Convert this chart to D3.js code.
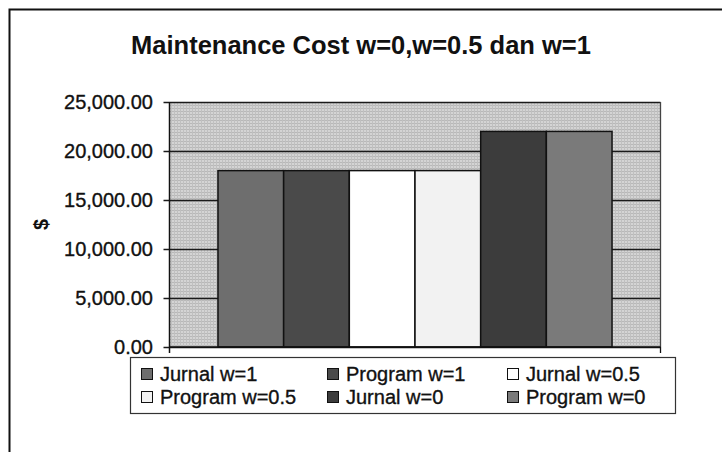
<!DOCTYPE html>
<html>
<head>
<meta charset="utf-8">
<script src="https://cdnjs.cloudflare.com/ajax/libs/d3/7.8.5/d3.min.js"></script>
<style>
    body { margin: 0; background: #fff; }
    text { font-family: "Liberation Sans", Arial, sans-serif; fill: #111; }
    .lbl { stroke: #111; stroke-width: 0.35px; }
</style>
</head>
<body>
<div id="chart"></div>
<script>
const chart_title = "Maintenance Cost w=0,w=0.5 dan w=1";
const category = ["Maintenance Cost"];
const series_names = ["Jurnal w=1", "Program w=1", "Jurnal w=0.5", "Program w=0.5", "Jurnal w=0", "Program w=0"];
const series_values = [18000, 18000, 18000, 18000, 22000, 22000];
const series_colors = ["#6e6e6e", "#4a4a4a", "#ffffff", "#f2f2f2", "#3c3c3c", "#7a7a7a"];
const y_ticks = [0, 5000, 10000, 15000, 20000, 25000];
const y_title = "$";

var bars_data = series_names.map(function(name, i){
    return {name: name, value: series_values[i], color: series_colors[i]};
});

const width = 722, height = 452;
const plot = {left: 169.5, right: 660.5, top: 102, bottom: 347};

const svg = d3.select("#chart")
    .append("svg")
    .attr("width", width)
    .attr("height", height);

/* текстура фону як у скані */
var defs = svg.append("defs");
var pat = defs.append("pattern")
    .attr("id", "plot-bg")
    .attr("width", 3)
    .attr("height", 3)
    .attr("patternUnits", "userSpaceOnUse");
pat.append("rect").attr("width", 3).attr("height", 3).attr("fill", "#d4d4d4");
pat.append("rect").attr("width", 3).attr("height", 1).attr("fill", "#b8b8b8");
pat.append("rect").attr("width", 1).attr("height", 3).attr("fill", "#c0c0c0");

/* рамка */
svg.append("rect")
    .attr("x", 9.5)
    .attr("y", 9.5)
    .attr("width", 740)
    .attr("height", 470)
    .attr("fill", "none")
    .attr("stroke", "#111")
    .attr("stroke-width", 2);

svg.append("text")
    .attr("x", 361)
    .attr("y", 54)
    .attr("text-anchor", "middle")
    .style("font-size", "25.5px")
    .style("font-weight", "bold")
    .text(chart_title);

var yScale = d3.scaleLinear()
    .domain([0, d3.max(y_ticks)])
    .range([plot.bottom, plot.top]);

var xCat = d3.scaleBand()
    .domain(category)
    .range([plot.left, plot.right])
    .paddingInner(0)
    .paddingOuter(0.123);

var xSeries = d3.scaleBand()
    .domain(series_names)
    .range([0, xCat.bandwidth()]);

/* область графіка */
svg.append("rect")
    .attr("x", plot.left)
    .attr("y", plot.top)
    .attr("width", plot.right - plot.left)
    .attr("height", plot.bottom - plot.top)
    .attr("fill", "url(#plot-bg)");

/* сітка */
svg.append("g")
    .selectAll("line")
    .data(y_ticks)
    .enter()
    .append("line")
    .attr("x1", plot.left - 6)
    .attr("x2", plot.right)
    .attr("y1", function(d){ return Math.round(yScale(d)) + 0.5; })
    .attr("y2", function(d){ return Math.round(yScale(d)) + 0.5; })
    .attr("stroke", "#1a1a1a")
    .attr("stroke-width", 1.3);

svg.append("line")
    .attr("x1", plot.right).attr("x2", plot.right)
    .attr("y1", plot.top).attr("y2", plot.bottom)
    .attr("stroke", "#444").attr("stroke-width", 1.3);

/* барчики */
svg.append("g")
    .selectAll("rect")
    .data(bars_data)
    .enter()
    .append("rect")
    .attr("x", function(d){ return xCat(category[0]) + xSeries(d.name); })
    .attr("y", function(d){ return yScale(d.value); })
    .attr("width", xSeries.bandwidth())
    .attr("height", function(d){ return yScale(0) - yScale(d.value); })
    .attr("fill", function(d){ return d.color; })
    .attr("stroke", "#111")
    .attr("stroke-width", 1.5);

/* осі */
svg.append("line")
    .attr("x1", plot.left).attr("x2", plot.left)
    .attr("y1", plot.top).attr("y2", plot.bottom + 6)
    .attr("stroke", "#111").attr("stroke-width", 1.5);

svg.append("line")
    .attr("x1", plot.left).attr("x2", plot.right)
    .attr("y1", plot.bottom).attr("y2", plot.bottom)
    .attr("stroke", "#111").attr("stroke-width", 1.5);

svg.append("line")
    .attr("x1", plot.right).attr("x2", plot.right)
    .attr("y1", plot.bottom).attr("y2", plot.bottom + 6)
    .attr("stroke", "#111").attr("stroke-width", 1.3);

var fmt = d3.format(",.2f");
svg.append("g")
    .selectAll("text")
    .data(y_ticks)
    .enter()
    .append("text")
    .attr("class", "lbl")
    .attr("x", 153)
    .attr("y", function(d){ return yScale(d); })
    .attr("dy", "0.36em")
    .attr("text-anchor", "end")
    .style("font-size", "20px")
    .text(function(d){ return fmt(d); });

svg.append("text")
    .attr("transform", "translate(41," + ((plot.top + plot.bottom) / 2) + ") rotate(-90)")
    .attr("text-anchor", "middle")
    .attr("dy", "0.35em")
    .style("font-size", "20px")
    .style("font-weight", "bold")
    .text(y_title);

/* легенда */
svg.append("rect")
    .attr("x", 130.5)
    .attr("y", 357.5)
    .attr("width", 545)
    .attr("height", 56)
    .attr("fill", "#fff")
    .attr("stroke", "#333")
    .attr("stroke-width", 1.2);

const col_x = [141, 327, 507];
const row_y = [374, 397];

var legend = svg.append("g")
    .selectAll("g")
    .data(bars_data)
    .enter()
    .append("g")
    .attr("transform", function(d, i){
        return "translate(" + col_x[i % 3] + "," + row_y[Math.floor(i / 3)] + ")";
    });

legend.append("rect")
    .attr("x", 0.5)
    .attr("y", -5.5)
    .attr("width", 11)
    .attr("height", 11)
    .attr("fill", function(d){ return d.color; })
    .attr("stroke", "#111")
    .attr("stroke-width", 1);

legend.append("text")
    .attr("class", "lbl")
    .attr("x", 19)
    .attr("y", 0)
    .attr("dy", "0.36em")
    .style("font-size", "20px")
    .text(function(d){ return d.name; });
</script>
</body>
</html>
